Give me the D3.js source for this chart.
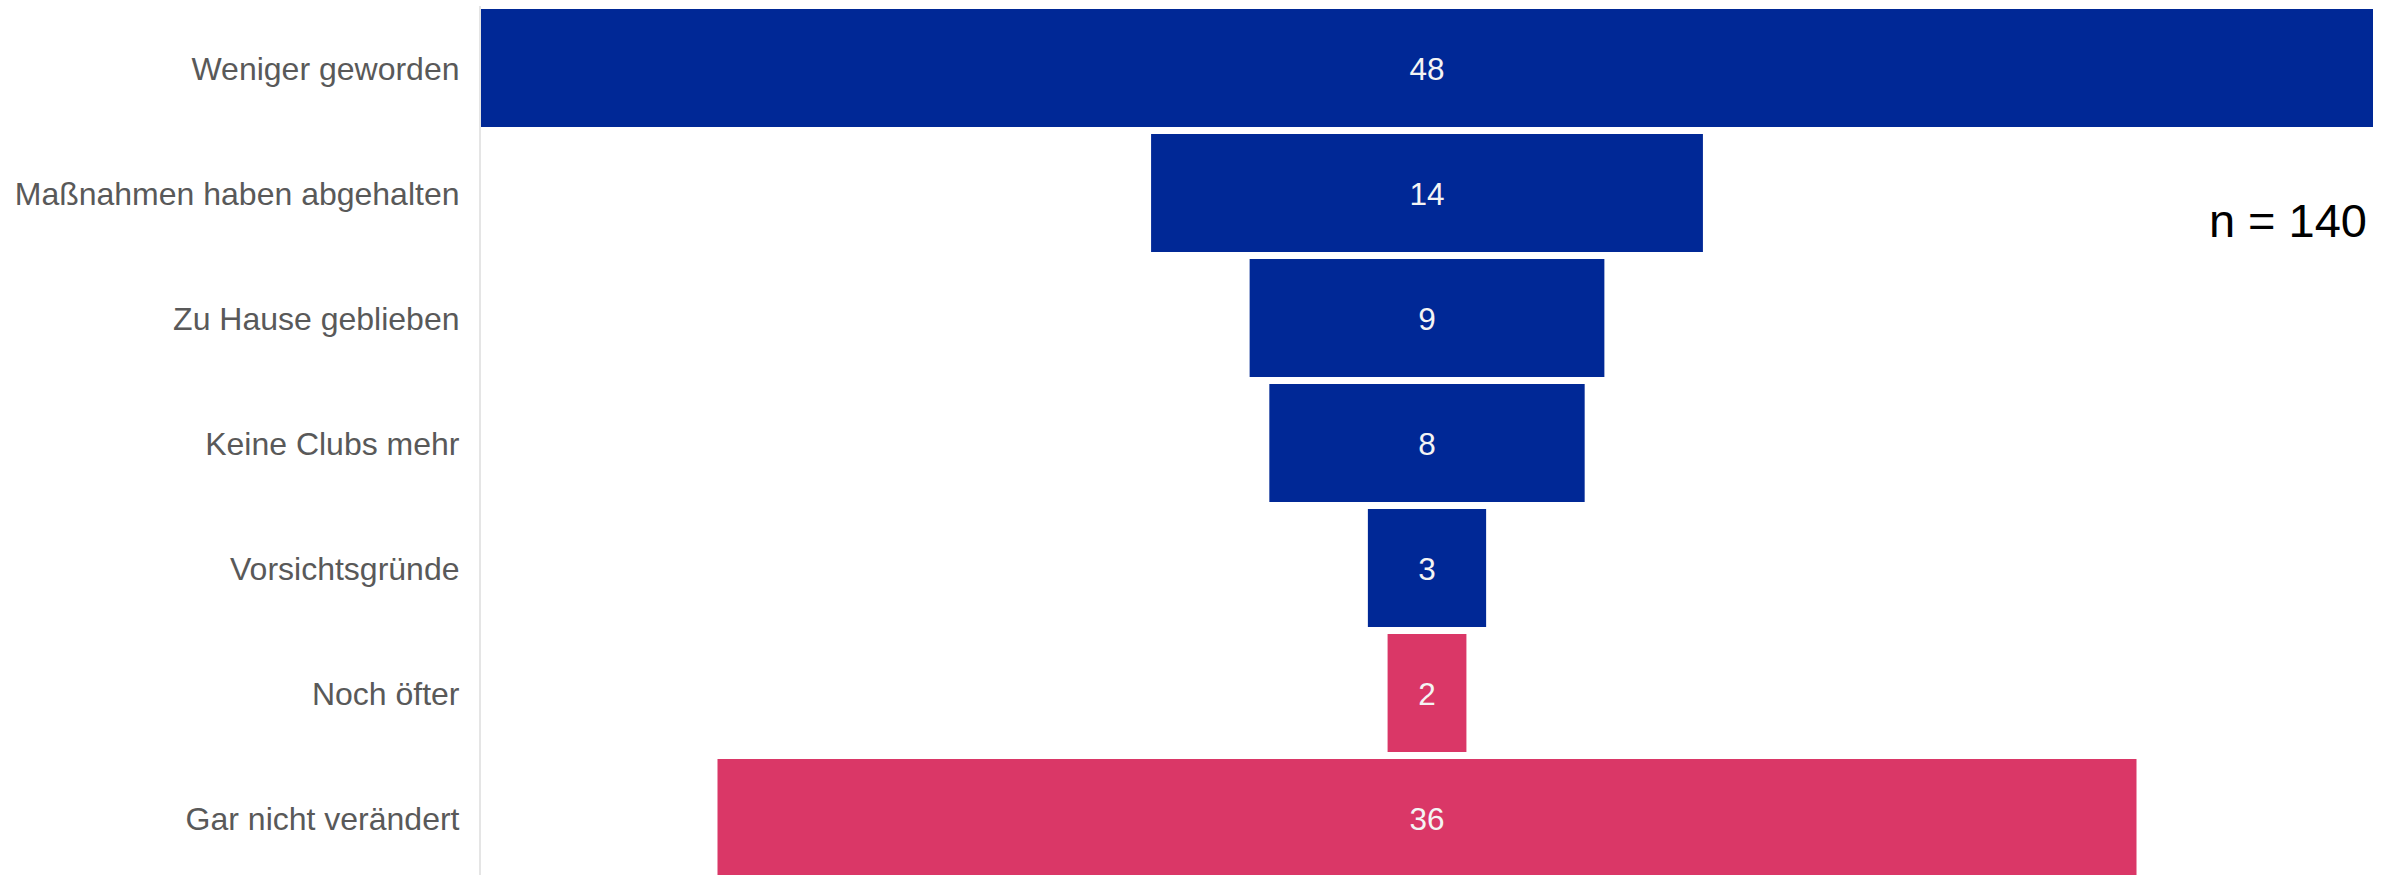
<!DOCTYPE html>
<html>
<head>
<meta charset="utf-8">
<script src="https://cdn.jsdelivr.net/npm/d3@7"></script>
<style>
  html, body { margin: 0; padding: 0; background: #ffffff; }
  svg { display: block; }
  text { font-family: "Liberation Sans", Arial, sans-serif; }
</style>
</head>
<body>
<svg id="chart" width="2399" height="875"></svg>
<script>
// Survey answers, top to bottom, as a centered funnel
const categories = [
  "Weniger geworden",
  "Maßnahmen haben abgehalten",
  "Zu Hause geblieben",
  "Keine Clubs mehr",
  "Vorsichtsgründe",
  "Noch öfter",
  "Gar nicht verändert"
];
const counts = [48, 14, 9, 8, 3, 2, 36];
const groups = ["less", "less", "less", "less", "less", "more", "same"];
const sampleLabel = "n = 140";

const colorOf = { less: "#002896", more: "#DA3767", same: "#DA3767" };

const svg = d3.select("#chart");

const maxCount = d3.max(counts);
const x = d3.scaleLinear()
  .domain([-maxCount / 2, maxCount / 2])
  .range([481, 2373]);

const y = d3.scaleBand()
  .domain(categories)
  .range([5.5, 880.5])
  .paddingInner(0.056)
  .paddingOuter(0.028);

const rows = categories.map((c, i) => ({ cat: c, value: counts[i], group: groups[i] }));

// Bars centered on zero
svg.append("g")
  .selectAll("rect")
  .data(rows)
  .join("rect")
  .attr("x", d => x(-d.value / 2))
  .attr("y", d => y(d.cat))
  .attr("width", d => x(d.value / 2) - x(-d.value / 2))
  .attr("height", y.bandwidth())
  .attr("fill", d => colorOf[d.group]);

// Values in the middle of each bar
svg.append("g")
  .selectAll("text")
  .data(rows)
  .join("text")
  .attr("x", x(0))
  .attr("y", d => y(d.cat) + y.bandwidth() / 2)
  .attr("dy", "0.38em")
  .attr("text-anchor", "middle")
  .attr("fill", "#f4f4f4")
  .style("font-size", "31.5px")
  .text(d => d.value);

// Category axis on the left
const axis = svg.append("g")
  .attr("transform", "translate(479.5,0)")
  .call(d3.axisLeft(y).tickSize(0).tickSizeOuter(0).tickPadding(20));
axis.select(".domain").attr("stroke", "#dcdcdc").attr("stroke-width", 1.5);
axis.selectAll(".tick text")
  .attr("fill", "#595959")
  .attr("dy", "0.38em")
  .style("font-size", "32px")
  .style("font-family", "'Liberation Sans', Arial, sans-serif");

// Sample size note
svg.append("text")
  .attr("x", x(maxCount / 2) - 6)
  .attr("y", y(categories[1]) + y.bandwidth() / 2 + 44)
  .attr("text-anchor", "end")
  .attr("fill", "#000000")
  .style("font-size", "47px")
  .text(sampleLabel);
</script>
</body>
</html>
